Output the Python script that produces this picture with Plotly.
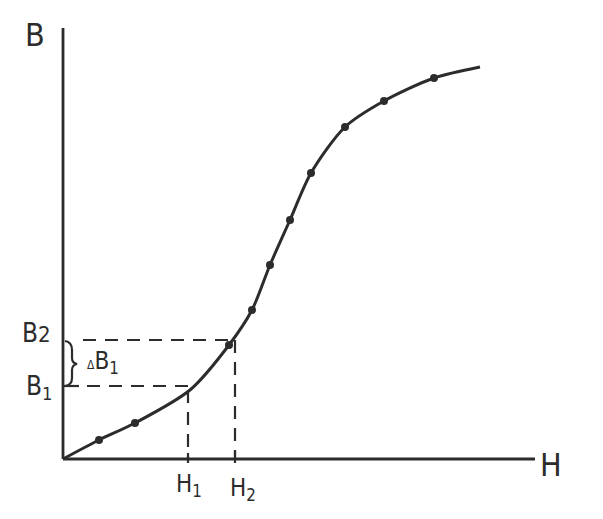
import plotly.graph_objects as go

# Magnetization curve (values read in pixel-like units from the sketch)
H = [0, 36, 72, 127, 166, 189, 207, 227, 248, 282, 321, 371, 417]
B = [0, 19, 36, 69, 114, 149, 194, 239, 286, 332, 358, 381, 392]
dot_H = [36, 72, 166, 189, 207, 227, 248, 282, 321, 371]
dot_B = [19, 36, 114, 149, 194, 239, 286, 332, 358, 381]
H1, B1 = 125, 73
H2, B2 = 172, 119

ink = "#2c2c2c"
fig = go.Figure()
fig.add_trace(go.Scatter(x=H, y=B, mode="lines", line=dict(color=ink, width=3, shape="spline", smoothing=0.8),
                         hoverinfo="skip", showlegend=False))
fig.add_trace(go.Scatter(x=dot_H, y=dot_B, mode="markers", marker=dict(color=ink, size=8),
                         hoverinfo="skip", showlegend=False))

shapes = []
# axes
shapes.append(dict(type="line", x0=0, y0=0, x1=0, y1=431, line=dict(color=ink, width=2.8)))
shapes.append(dict(type="line", x0=0, y0=0, x1=472, y1=0, line=dict(color=ink, width=2.8)))
# dashed guides
shapes.append(dict(type="line", x0=20, y0=B2, x1=H2, y1=B2, line=dict(color=ink, width=2.2, dash="13px,9px")))
shapes.append(dict(type="line", x0=H2, y0=B2, x1=H2, y1=0, line=dict(color=ink, width=2.2, dash="13px,9px")))
shapes.append(dict(type="line", x0=24, y0=B1, x1=H1, y1=B1, line=dict(color=ink, width=2.2, dash="13px,9px")))
shapes.append(dict(type="line", x0=H1, y0=B1 - 4, x1=H1, y1=0, line=dict(color=ink, width=2.2, dash="13px,9px")))
# ticks
shapes.append(dict(type="line", x0=0, y0=B1, x1=16, y1=B1, line=dict(color=ink, width=2.2)))
shapes.append(dict(type="line", x0=H1, y0=-4, x1=H1, y1=6, line=dict(color=ink, width=2.2)))
shapes.append(dict(type="line", x0=H2, y0=-4, x1=H2, y1=8, line=dict(color=ink, width=2.2)))
# brace
shapes.append(dict(type="path",
                   path=f"M 2,{B2-1} Q 9,{B2-2} 9,{B2-10} L 9,{B2-18} Q 9,{B2-23} 14,{B2-24} "
                        f"Q 9,{B2-25} 9,{B2-30} L 9,{B1+8} Q 9,{B1+1} 2,{B1}",
                   line=dict(color=ink, width=2.2)))

ann = []
fam = "DejaVu Sans Condensed, DejaVu Sans"
def label(x, y, text, size=20):
    ann.append(dict(x=x, y=y, xref="x", yref="y", text=text, showarrow=False,
                    font=dict(size=size, family=fam, color=ink)))
label(-28, 424, "B", 32)
label(-27, 126, "B<span style='font-size:22px'>2</span>", 26)
label(-24, 72, "B<sub>1</sub>", 26)
label(40, 97, "<span style='font-size:12px'>Δ</span>B<sub>1</sub>", 24)
label(126, -26, "H<sub>1</sub>", 24)
label(180, -30, "H<sub>2</sub>", 24)
label(488, -6, "H", 32)

# the page body adds an 8px offset, so shift ranges to keep the origin at (63,459)
fig.update_layout(
    width=603, height=519,
    margin=dict(l=0, r=0, t=0, b=0, autoexpand=False),
    paper_bgcolor="white", plot_bgcolor="white",
    xaxis=dict(range=[-55, 548], visible=False, fixedrange=True),
    yaxis=dict(range=[-68, 451], visible=False, fixedrange=True),
    shapes=shapes, annotations=ann,
)
fig.write_html("out.html")
